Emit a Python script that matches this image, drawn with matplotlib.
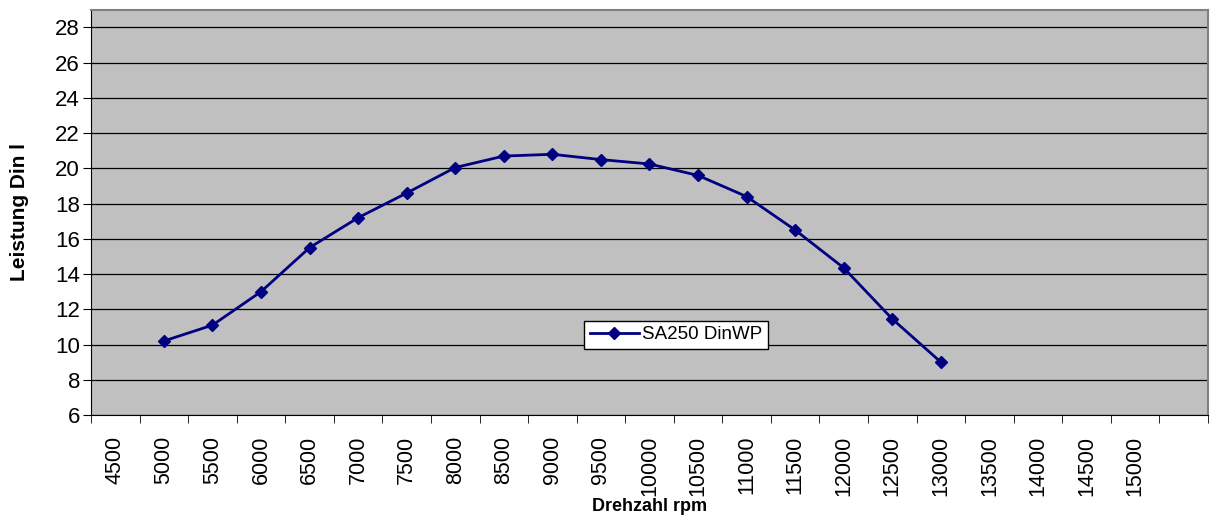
import numpy as np
import matplotlib.pyplot as plt

plt.rcParams['font.family'] = ['Liberation Sans', 'DejaVu Sans']

rpm_labels = ['4500', '5000', '5500', '6000', '6500', '7000', '7500', '8000',
              '8500', '9000', '9500', '10000', '10500', '11000', '11500',
              '12000', '12500', '13000', '13500', '14000', '14500', '15000', '']
power_rpm = ['5000', '5500', '6000', '6500', '7000', '7500', '8000', '8500',
             '9000', '9500', '10000', '10500', '11000', '11500', '12000',
             '12500', '13000']
power = [10.2, 11.1, 13.0, 15.5, 17.2, 18.6, 20.05, 20.7, 20.8, 20.5, 20.25,
         19.6, 18.4, 16.5, 14.35, 11.45, 9.0]

fig = plt.figure(figsize=(12.14, 5.2), dpi=100)
ax = fig.add_axes([0.075, 0.202, 0.920, 0.779])
ax.set_facecolor('#c0c0c0')

xpos = [rpm_labels.index(r) for r in power_rpm]
ax.plot(xpos, power, color='#000080', lw=2, marker='D', ms=6,
        label='SA250 DinWP', zorder=3)

ax.set_xlim(-0.5, len(rpm_labels) - 0.5)
ax.set_ylim(6, 29)
ax.set_yticks(np.arange(6, 29, 2))
ax.grid(axis='y', color='black', lw=0.9)
ax.set_axisbelow(True)

ax.set_xticks(range(len(rpm_labels)))
ax.set_xticklabels(rpm_labels, rotation=90, fontsize=15.5)
ax.tick_params(axis='x', length=0, pad=15)
ax.set_xticks(np.arange(-0.5, len(rpm_labels), 1), minor=True)
ax.tick_params(axis='x', which='minor', length=6, color='black')
ax.tick_params(axis='y', labelsize=16, length=6, color='black', pad=2)

for s in ['top', 'right']:
    ax.spines[s].set_color('#808080')
    ax.spines[s].set_linewidth(1.5)
for s in ['left', 'bottom']:
    ax.spines[s].set_color('black')

ax.set_xlabel('Drehzahl rpm', fontsize=13, fontweight='bold', labelpad=1)
ax.set_ylabel('Leistung Din l', fontsize=15, fontweight='bold', labelpad=19)

leg = ax.legend(loc='center', bbox_to_anchor=(0.524, 0.198), fontsize=13.5,
                fancybox=False, framealpha=1, edgecolor='black',
                handlelength=2.6, borderpad=0.3, handletextpad=0.2)
leg.get_frame().set_linewidth(1)

fig.savefig('out.png', dpi=100)
